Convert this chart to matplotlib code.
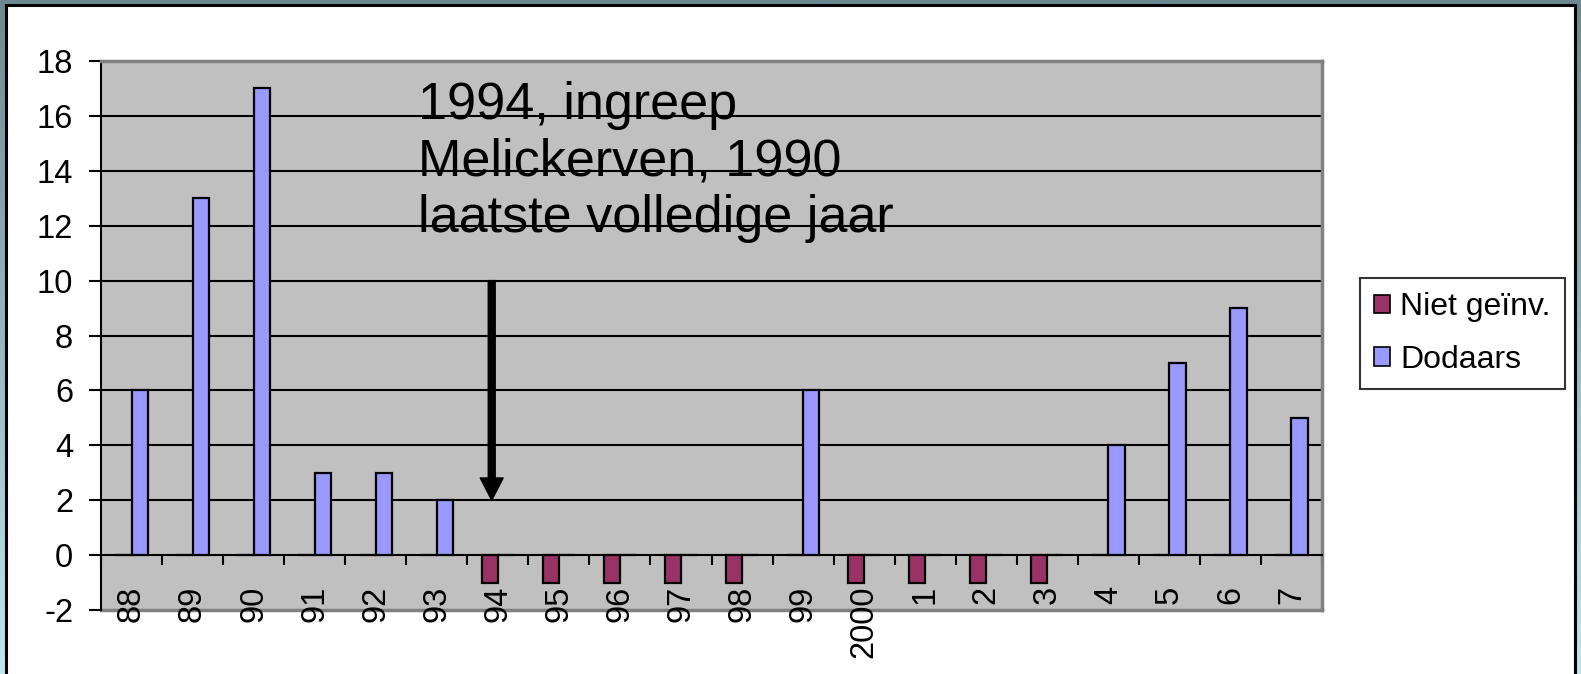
import numpy as np
import matplotlib
matplotlib.use("Agg")
import matplotlib.pyplot as plt
from matplotlib.patches import Rectangle, Patch

plt.rcParams['font.family'] = ['Liberation Sans', 'DejaVu Sans']
plt.rcParams['axes.unicode_minus'] = False

# data
years = ['88', '89', '90', '91', '92', '93', '94', '95', '96', '97',
         '98', '99', '2000', '1', '2', '3', '4', '5', '6', '7']
dodaars = [6, 13, 17, 3, 3, 2, 0, 0, 0, 0, 0, 6, 0, 0, 0, 0, 4, 7, 9, 5]
niet_geinv = [0, 0, 0, 0, 0, 0, -1, -1, -1, -1, -1, 0, -1, -1, -1, -1, 0, 0, 0, 0]
yticks = list(range(-2, 19, 2))
note = "1994, ingreep\nMelickerven, 1990\nlaatste volledige jaar"

W, H = 1581, 674
fig = plt.figure(figsize=(W / 100, H / 100), dpi=100)

# slide background gradient + white frame
bg = fig.add_axes([0, 0, 1, 1], zorder=-10)
grad = np.linspace(0, 1, 256).reshape(-1, 1)
top_c = np.array([0x6e, 0x88, 0x91]) / 255
bot_c = np.array([0xbd, 0xe6, 0xf0]) / 255
img = top_c + grad[..., None] * (bot_c - top_c)
bg.imshow(img, aspect='auto', extent=[0, 1, 1, 0])
bg.set_axis_off()
fig.patches.append(Rectangle((6 / W, -0.02), (1575 - 6) / W, 1.02 - 5 / H,
                             transform=fig.transFigure, facecolor='white',
                             edgecolor='black', lw=2.2, zorder=-5))

ax = fig.add_axes([101 / W, 64 / H, (1322 - 101) / W, (610 - 61) / H])
ax.set_facecolor('#c0c0c0')

x = np.arange(len(years))
bw = 0.265
ax.bar(x, niet_geinv, width=-bw, align='edge', color='#993366',
       edgecolor='black', lw=1.6, zorder=3)
ax.bar(x, dodaars, width=bw, align='edge', color='#9999ff',
       edgecolor='black', lw=1.6, zorder=3)

ax.set_xlim(-0.5, len(years) - 0.5)
ax.set_ylim(-2, 18)
for v in yticks[2:]:
    ax.axhline(v, color='black', lw=1.5, zorder=2)

# plot area frame
for s in ['top', 'right']:
    ax.spines[s].set_color('#808080')
    ax.spines[s].set_linewidth(2.5)
ax.spines['left'].set_color('black')
ax.spines['left'].set_linewidth(1.5)
ax.spines['bottom'].set_position(('data', 0))
ax.spines['bottom'].set_color('black')
ax.spines['bottom'].set_linewidth(1.5)
ax.axhline(-2, color='#808080', lw=2.5, zorder=1, clip_on=False)

ax.set_yticks(yticks)
ax.tick_params(axis='y', length=9, width=1.5, pad=11, labelsize=23.5)
ax.set_xticks(np.arange(len(years) + 1) - 0.5)
ax.set_xticklabels([])
ax.tick_params(axis='x', which='major', direction='out', length=7.5, width=1.5)
ax.set_xticks(x, minor=True)
ax.set_xticklabels(years, minor=True, rotation=90, fontsize=23.5, va='top')
ax.tick_params(axis='x', which='minor', length=0, pad=22)

ax.text(4.69, 17.27, note, fontsize=37.5, va='top', ha='left',
        linespacing=1.2, zorder=5)
ax.annotate('', xy=(5.9, 2), xytext=(5.9, 10),
            arrowprops=dict(facecolor='black', edgecolor='black', width=5,
                            headwidth=16.5, headlength=16, shrink=0),
            zorder=5)

handles = [Patch(facecolor='#993366', edgecolor='black', lw=1.2),
           Patch(facecolor='#9999ff', edgecolor='black', lw=1.2)]
leg = fig.legend(handles, ['Niet geïnv.', 'Dodaars'], loc='upper left',
                 bbox_to_anchor=(1360 / W, 1 - 278 / H), borderaxespad=0,
                 fontsize=23, fancybox=False, handlelength=0.5,
                 handleheight=0.5, handletextpad=0.3, labelspacing=0.7,
                 borderpad=0.45)
leg.get_frame().set_edgecolor('black')
leg.get_frame().set_linewidth(1.5)

fig.savefig('out.png', dpi=100)
